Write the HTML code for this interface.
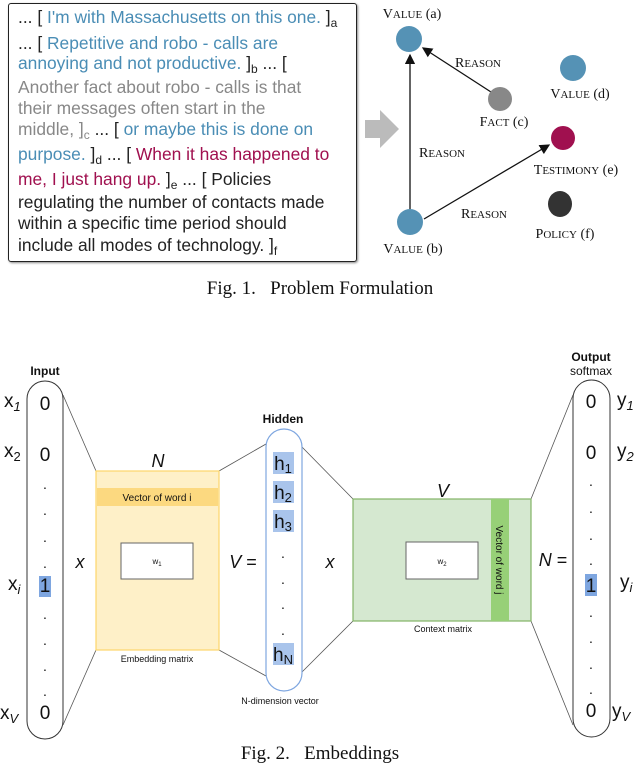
<!DOCTYPE html>
<html><head><meta charset="utf-8"><style>
body{margin:0;width:640px;height:766px;background:#fff;overflow:hidden;position:relative;font-family:"Liberation Sans",sans-serif}
.box{position:absolute;left:8px;top:3px;width:347px;height:257px;border:1.5px solid #222;border-radius:3px;box-shadow:1px 1px 2px #888}
.t{position:absolute;left:18px;font-size:17.4px;line-height:22px;white-space:nowrap;color:#222}
.b{color:#4a8db5}.g{color:#888}.r{color:#a0104f}
sub{font-size:12px;vertical-align:-4px;line-height:0}
</style></head><body>
<div class="box"></div>
<div class="t" style="top:6px">... [ <span class="b">I'm with Massachusetts on this one.</span> ]<sub>a</sub></div>
<div class="t" style="top:32px">... [ <span class="b">Repetitive and robo - calls are</span></div>
<div class="t" style="top:52px"><span class="b">annoying and not productive.</span> ]<sub>b</sub> ... [</div>
<div class="t g" style="top:76px">Another fact about robo - calls is that</div>
<div class="t g" style="top:97px">their messages often start in the</div>
<div class="t" style="top:118px"><span class="g">middle, ]<sub>c</sub></span> ... [ <span class="b">or maybe this is done on</span></div>
<div class="t" style="top:143px"><span class="b">purpose.</span> ]<sub>d</sub> ... [ <span class="r">When it has happened to</span></div>
<div class="t" style="top:168px"><span class="r">me, I just hang up.</span> ]<sub>e</sub> ... [ Policies</div>
<div class="t" style="top:191px">regulating the number of contacts made</div>
<div class="t" style="top:212px">within a specific time period should</div>
<div class="t" style="top:234px">include all modes of technology. ]<sub>f</sub></div>
<svg width="640" height="340" style="position:absolute;left:0;top:0" font-family="Liberation Serif,serif">
<defs><marker id="ah" markerWidth="8" markerHeight="8" refX="7" refY="4" orient="auto"><path d="M0,0 L8,4 L0,8 z" fill="#111"/></marker></defs>
<polygon points="365,120 380,120 380,110 399,129 380,148 380,138 365,138" fill="#bbb"/>
<line x1="410" y1="209" x2="410" y2="55" stroke="#111" stroke-width="1.3" marker-end="url(#ah)"/>
<line x1="491" y1="92" x2="423" y2="48" stroke="#111" stroke-width="1.3" marker-end="url(#ah)"/>
<line x1="424" y1="219" x2="549" y2="145" stroke="#111" stroke-width="1.3" marker-end="url(#ah)"/>
<ellipse cx="409" cy="39" rx="13" ry="13" fill="#5592b5"/>
<ellipse cx="500" cy="99" rx="12" ry="12" fill="#888"/>
<ellipse cx="573" cy="68" rx="13" ry="13" fill="#5592b5"/>
<ellipse cx="563" cy="138" rx="12" ry="12" fill="#a0104f"/>
<ellipse cx="560" cy="204" rx="12" ry="13" fill="#333"/>
<ellipse cx="410" cy="222" rx="13" ry="13" fill="#5592b5"/>
<g font-size="14" text-anchor="middle" fill="#111">
<text x="412" y="18">V<tspan font-size="11">ALUE</tspan> (a)</text>
<text x="478" y="67">R<tspan font-size="11">EASON</tspan></text>
<text x="580" y="98">V<tspan font-size="11">ALUE</tspan> (d)</text>
<text x="504" y="126">F<tspan font-size="11">ACT</tspan> (c)</text>
<text x="442" y="157">R<tspan font-size="11">EASON</tspan></text>
<text x="576" y="174">T<tspan font-size="11">ESTIMONY</tspan> (e)</text>
<text x="484" y="218">R<tspan font-size="11">EASON</tspan></text>
<text x="565" y="238">P<tspan font-size="11">OLICY</tspan> (f)</text>
<text x="413" y="253">V<tspan font-size="11">ALUE</tspan> (b)</text>
</g>
<text x="320" y="294" font-size="19" text-anchor="middle" fill="#111">Fig. 1.&#160;&#160; Problem Formulation</text>
</svg>
<svg width="640" height="426" viewBox="0 0 640 426" style="position:absolute;left:0;top:340px" font-family="Liberation Sans,sans-serif">
<g stroke="#555" stroke-width="0.8">
<line x1="63" y1="55" x2="96" y2="131"/>
<line x1="63" y1="385" x2="96" y2="310"/>
<line x1="219" y1="131" x2="266" y2="104"/>
<line x1="219" y1="310" x2="266" y2="336"/>
<line x1="302" y1="107" x2="353" y2="159"/>
<line x1="302" y1="332" x2="353" y2="281"/>
<line x1="531" y1="159" x2="573" y2="55"/>
<line x1="531" y1="281" x2="573" y2="385"/>
</g>
<rect x="27" y="41" width="36" height="358" rx="18" fill="none" stroke="#333" stroke-width="1"/>
<rect x="573" y="40" width="37" height="357" rx="18.5" fill="none" stroke="#333" stroke-width="1"/>
<rect x="96" y="131" width="123" height="179" fill="#fef0c8" stroke="#fcd66a" stroke-width="1.2"/>
<rect x="97" y="148" width="121" height="18" fill="#fcd980"/>
<rect x="121" y="203" width="72" height="36" fill="#fff" stroke="#666"/>
<rect x="353" y="159" width="178" height="122" fill="#d5e8d0" stroke="#82b366" stroke-width="1.2"/>
<rect x="491" y="159" width="18" height="122" fill="#97d077"/>
<rect x="406" y="202" width="72" height="37" fill="#fff" stroke="#666"/>
<rect x="266" y="89" width="36" height="262" rx="18" fill="#fff" stroke="#7ea6e0" stroke-width="1.2"/>
<g fill="#a9c4eb"><rect x="273" y="112" width="21" height="22"/><rect x="273" y="141" width="21" height="22"/><rect x="273" y="170" width="21" height="22"/><rect x="273" y="303" width="21" height="22"/></g>
<rect x="39" y="236" width="12" height="21" fill="#7ea6e0"/><rect x="585" y="234" width="12" height="22" fill="#7ea6e0"/>
<g fill="#111" text-anchor="middle">
<text x="45" y="35" font-size="12" font-weight="bold">Input</text>
<text x="591" y="21" font-size="12" font-weight="bold">Output</text>
<text x="591" y="35" font-size="12">softmax</text>
<text x="283" y="83" font-size="12" font-weight="bold">Hidden</text>
<text x="158" y="127" font-size="18" font-style="italic">N</text>
<text x="443" y="157" font-size="18" font-style="italic">V</text>
<text x="157" y="161" font-size="10">Vector of word i</text>
<text x="157" y="224" font-size="8">w<tspan font-size="6" dy="2">1</tspan></text>
<text x="442" y="224" font-size="8">w<tspan font-size="6" dy="2">2</tspan></text>
<text x="157" y="322" font-size="9">Embedding matrix</text>
<text x="443" y="292" font-size="9">Context matrix</text>
<text x="280" y="364" font-size="9">N-dimension vector</text>
<text x="80" y="228" font-size="18" font-style="italic">x</text>
<text x="330" y="228" font-size="18" font-style="italic">x</text>
<text x="243" y="228" font-size="18"><tspan font-style="italic">V</tspan> =</text>
<text x="553" y="226" font-size="18"><tspan font-style="italic">N</tspan> =</text>
<g font-size="19">
<text x="45" y="70">0</text><text x="45" y="121">0</text><text x="45" y="252">1</text><text x="45" y="379">0</text>
<text x="591" y="68">0</text><text x="591" y="119">0</text><text x="591" y="252">1</text><text x="591" y="377">0</text>
<text x="283" y="130">h<tspan font-size="13" dy="3">1</tspan></text>
<text x="283" y="159">h<tspan font-size="13" dy="3">2</tspan></text>
<text x="283" y="188">h<tspan font-size="13" dy="3">3</tspan></text>
<text x="283" y="321">h<tspan font-size="13" dy="3">N</tspan></text>
</g>
<g font-size="14">
<text x="45" y="149">.</text><text x="45" y="175">.</text><text x="45" y="202">.</text><text x="45" y="228">.</text>
<text x="45" y="279">.</text><text x="45" y="305">.</text><text x="45" y="331">.</text><text x="45" y="356">.</text>
<text x="591" y="146">.</text><text x="591" y="173">.</text><text x="591" y="200">.</text><text x="591" y="225">.</text>
<text x="591" y="277">.</text><text x="591" y="303">.</text><text x="591" y="329">.</text><text x="591" y="354">.</text>
<text x="283" y="218">.</text><text x="283" y="244">.</text><text x="283" y="269">.</text><text x="283" y="295">.</text>
</g>
<g font-size="19" text-anchor="start">
<text x="4" y="67">x<tspan font-size="13" dy="4" font-style="italic">1</tspan></text>
<text x="4" y="117">x<tspan font-size="13" dy="4">2</tspan></text>
<text x="8" y="250">x<tspan font-size="13" dy="4" font-style="italic">i</tspan></text>
<text x="0" y="379">x<tspan font-size="13" dy="4" font-style="italic">V</tspan></text>
<text x="617" y="66">y<tspan font-size="13" dy="4" font-style="italic">1</tspan></text>
<text x="617" y="117">y<tspan font-size="13" dy="4" font-style="italic">2</tspan></text>
<text x="620" y="248">y<tspan font-size="13" dy="4" font-style="italic">i</tspan></text>
<text x="612" y="377">y<tspan font-size="13" dy="4" font-style="italic">V</tspan></text>
</g>
<text x="0" y="0" font-size="10" transform="translate(496,220) rotate(90)" text-anchor="middle">Vector of word j</text>
</g>
<text x="320" y="419" font-size="19" text-anchor="middle" font-family="Liberation Serif,serif" fill="#111">Fig. 2.&#160;&#160; Embeddings</text>
</svg>
</body></html>
